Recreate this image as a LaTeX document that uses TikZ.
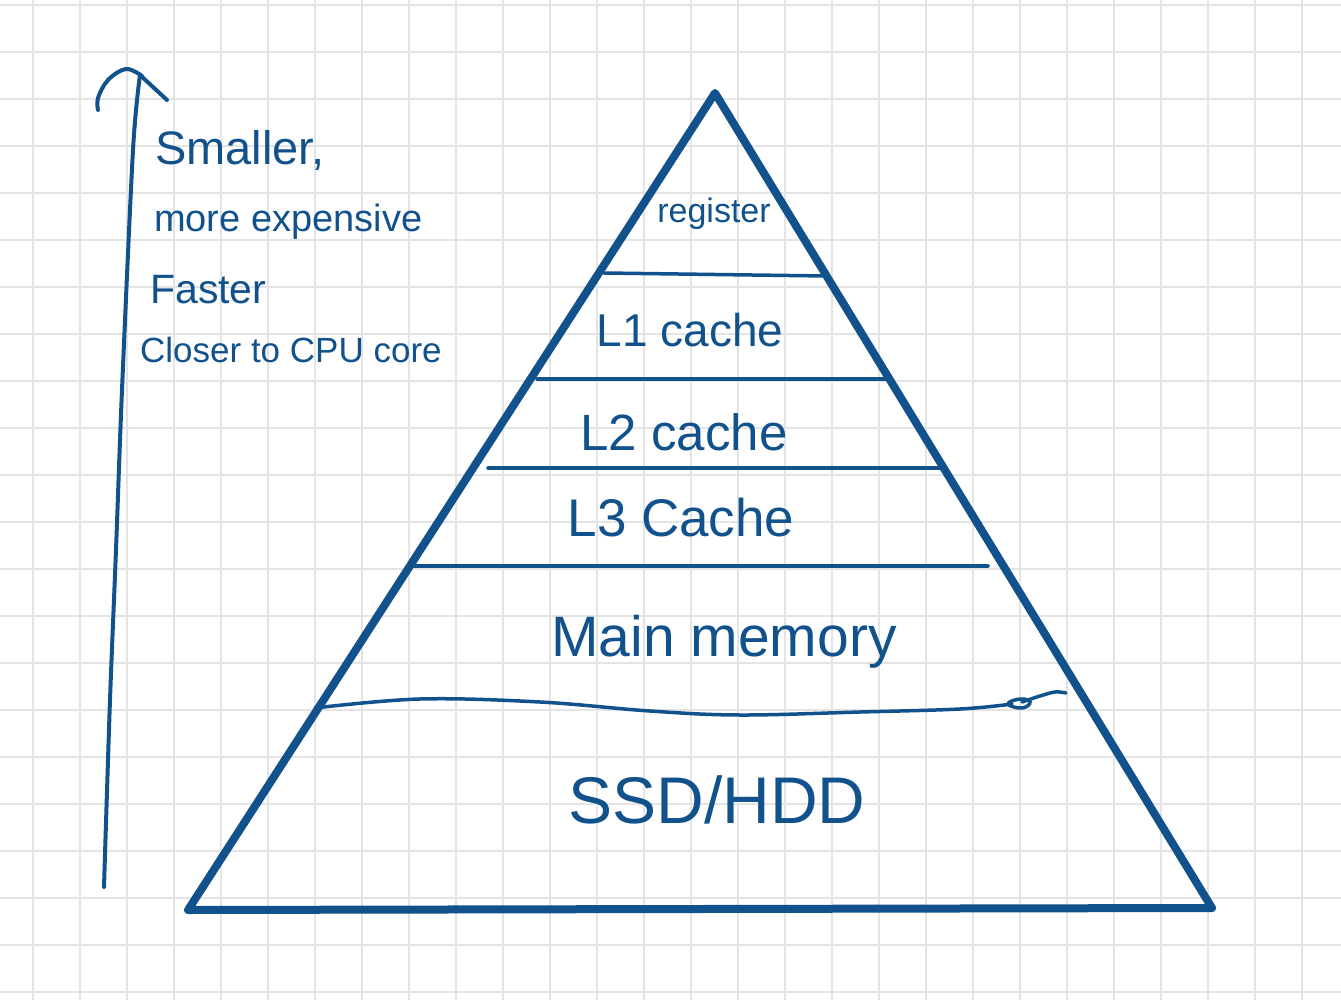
\documentclass[tikz,border=0pt]{standalone}
\usepackage{fontspec}
\setmainfont{Liberation Sans}
\definecolor{ink}{RGB}{18,82,140}
\definecolor{gridc}{RGB}{228,228,228}
\tikzset{
  tri/.style={draw=ink, line width=8pt, line join=round, line cap=round},
  sep/.style={draw=ink, line width=3.5pt, line cap=round},
  pen/.style={draw=ink, line width=4pt, line cap=round, line join=round},
  lbl/.style={text=ink, inner sep=0pt},
}
\begin{document}
\begin{tikzpicture}[x=1pt, y=-1pt]
\useasboundingbox (0,0) rectangle (1341,1000);
\fill[white] (0,0) rectangle (1341,1000);
% grid
\foreach \k in {0,...,27} {\draw[gridc, line width=2pt] ({33+47*\k},0) -- ({33+47*\k},1000);}
\foreach \k in {0,...,21} {\draw[gridc, line width=2pt] (0,{5+47*\k}) -- (1341,{5+47*\k});}

% pyramid
\coordinate (apex) at (715,93);
\coordinate (bl) at (188,910);
\coordinate (br) at (1212,908);
\draw[tri] (apex) -- (bl) -- (br) -- cycle;

% separators
\coordinate (s1a) at (604,273); \coordinate (s1b) at (826,276);
\coordinate (s2a) at (537,379); \coordinate (s2b) at (885,379);
\coordinate (s3a) at (488,468); \coordinate (s3b) at (940,468);
\coordinate (s4a) at (413,566); \coordinate (s4b) at (988,566);
\draw[sep] (s1a) -- (s1b);
\draw[sep] (s2a) -- (s2b);
\draw[sep] (s3a) -- (s3b);
\draw[sep] (s4a) -- (s4b);
% wavy separator
\coordinate (w0) at (315,708);
\coordinate (wend) at (1066,693);
\draw[sep] plot[smooth, tension=0.6] coordinates {(w0) (420,699) (540,702) (650,711) (740,715) (860,712) (960,709) (1012,704)};
\draw[sep] plot[smooth cycle, tension=0.8] coordinates {(1008,704) (1020,699) (1030,702) (1022,708)};
\draw[sep] plot[smooth, tension=0.6] coordinates {(1022,702) (1040,696) (1055,692) (wend)};

% labels in pyramid
\node[lbl, font=\fontsize{34}{36}\selectfont] (reg) at (714,214) {register};
\node[lbl, font=\fontsize{46}{48}\selectfont] (l1) at (690,330) {L1 cache};
\node[lbl, font=\fontsize{51}{53}\selectfont] (l2) at (684,432) {L2 cache};
\node[lbl, font=\fontsize{53}{55}\selectfont] (l3) at (681,518) {L3 Cache};
\node[lbl, font=\fontsize{57}{59}\selectfont] (mm) at (724,642) {Main memory};
\node[lbl, font=\fontsize{66}{68}\selectfont] (ssd) at (717,800) {SSD/HDD};

% left arrow
\coordinate (abot) at (104,887);
\coordinate (atop) at (140,75);
\draw[pen] plot[smooth, tension=0.5] coordinates {(abot) (110,700) (116,550) (122,390) (133,150) (atop)};
\draw[pen] plot[smooth, tension=0.6] coordinates {(98,110) (98,98) (108,80) (126,69) (142,76)};
\draw[pen] (atop) -- (167,100);

% left texts
\node[lbl, anchor=west, font=\fontsize{47}{49}\selectfont] (t1) at (155,150) {Smaller,};
\node[lbl, anchor=west, font=\fontsize{38}{40}\selectfont] (t2) at (154,222) {more expensive};
\node[lbl, anchor=west, font=\fontsize{41}{44}\selectfont] (t3) at (150,290) {Faster};
\node[lbl, anchor=west, font=\fontsize{35}{38}\selectfont] (t4) at (140,350) {Closer to CPU core};
\end{tikzpicture}
\end{document}
